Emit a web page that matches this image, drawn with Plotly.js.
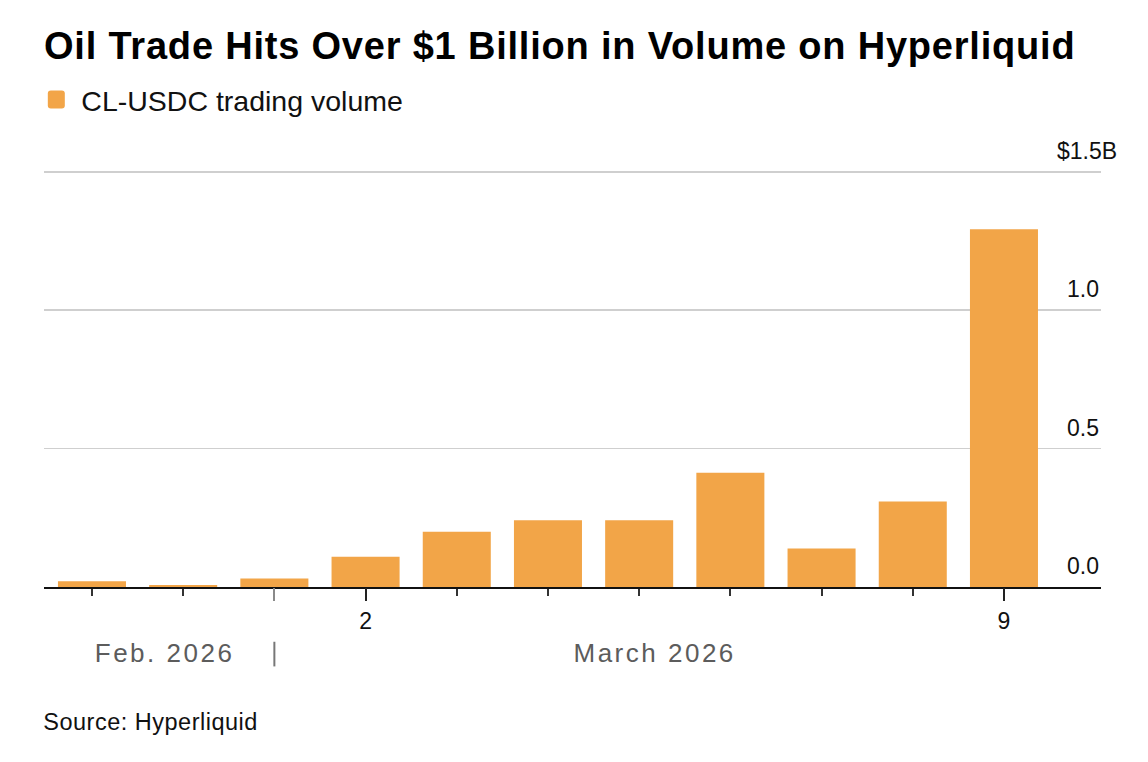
<!DOCTYPE html>
<html>
<head>
<meta charset="utf-8">
<script src="https://cdn.plot.ly/plotly-3.0.1.min.js"></script>
<style>
  html, body { margin: 0; padding: 0; background: #ffffff; }
  #chart { width: 1148px; height: 762px; }
  g.annotation[data-index="0"] text, g.annotation[data-index="1"] text { letter-spacing: 2.5px; }
  g.annotation[data-index="6"] text { letter-spacing: 0.5px; }
  .gtitle { letter-spacing: 0.8px; }
  .legend .legendpoints path { d: path("M-5.5,-9H5.5A3,3 0 0 1 8.5,-6V6A3,3 0 0 1 5.5,9H-5.5A3,3 0 0 1 -8.5,6V-6A3,3 0 0 1 -5.5,-9Z"); }
</style>
</head>
<body>
<div id="chart"></div>
<script>
// ---- data ----
const dates = ['Feb 27', 'Feb 28', 'Mar 1', 'Mar 2', 'Mar 3', 'Mar 4', 'Mar 5', 'Mar 6', 'Mar 7', 'Mar 8', 'Mar 9'];
const volumeB = [0.021, 0.007, 0.031, 0.109, 0.200, 0.241, 0.241, 0.413, 0.139, 0.309, 1.292];
const seriesName = 'CL-USDC trading volume';
const labeledDays = ['Mar 2', 'Mar 9'];
const labeledDayText = ['2', '9'];
const monthStart = 'Mar 1';
const monthLabels = ['Feb. 2026', 'March 2026'];
const monthLabelPos = [0.8, 6.17];
const yTickVals = [0, 0.5, 1.0, 1.5];
const yTickText = ['0.0', '0.5', '1.0', '$1.5B'];

// ---- chart ----
const FONT = 'Liberation Sans, Arial, Helvetica, sans-serif';
const BAR = '#f2a548';
const xRange = [-0.526, 11.064];
const yRange = [0, 1.51];
const idx = d => dates.indexOf(d);

const traces = [
  {
    type: 'bar',
    x: dates,
    y: volumeB,
    name: seriesName,
    marker: { color: BAR, line: { width: 0 } },
    hoverinfo: 'x+y',
    showlegend: true
  },
  { type: 'scatter', mode: 'markers', x: [], y: [], xaxis: 'x2', showlegend: false, hoverinfo: 'skip' },
  { type: 'scatter', mode: 'markers', x: [], y: [], xaxis: 'x3', showlegend: false, hoverinfo: 'skip' }
];

const annotations = [];
monthLabels.forEach((t, i) => {
  annotations.push({
    text: t, xref: 'x', yref: 'paper', x: monthLabelPos[i], y: -0.159,
    xanchor: 'center', yanchor: 'middle', showarrow: false,
    font: { family: FONT, size: 26, color: '#5c5c5c' }
  });
});
yTickVals.forEach((v, i) => {
  annotations.push({
    text: yTickText[i], xref: 'paper', yref: 'y', x: 1, y: v,
    xanchor: 'right', yanchor: 'bottom', yshift: 6,
    xshift: yTickText[i].indexOf('B') >= 0 ? 18 : 0,
    showarrow: false,
    font: { family: FONT, size: 23, color: '#111111' }
  });
});
annotations.push({
  text: 'Source: Hyperliquid', xref: 'paper', yref: 'paper', x: 0, y: -0.324,
  xanchor: 'left', yanchor: 'middle', xshift: 2, showarrow: false,
  font: { family: FONT, size: 23.5, color: '#111111' }
});

const layout = {
  width: 1148, height: 762,
  paper_bgcolor: '#ffffff', plot_bgcolor: '#ffffff',
  margin: { l: 44, r: 47, t: 169.2, b: 174.5, pad: 0 },
  font: { family: FONT, color: '#111111' },
  title: {
    text: '<b>Oil Trade Hits Over $1 Billion in Volume on Hyperliquid</b>',
    xref: 'paper', x: 0, xanchor: 'left',
    yref: 'container', y: 1 - 46 / 762, yanchor: 'middle',
    font: { family: FONT, size: 38, color: '#000000' }
  },
  showlegend: true,
  legend: {
    orientation: 'h', xref: 'paper', x: -0.012, xanchor: 'left',
    yref: 'container', y: 1 - 100 / 762, yanchor: 'middle',
    itemwidth: 40,
    font: { family: FONT, size: 28.5, color: '#111111' },
    bgcolor: 'rgba(0,0,0,0)'
  },
  bargap: 0.254,
  xaxis: {
    type: 'category', categoryorder: 'array', categoryarray: dates,
    range: xRange, fixedrange: true,
    showgrid: false, zeroline: false,
    showline: true, linecolor: '#111111', linewidth: 2,
    ticks: 'outside', ticklen: 7, tickwidth: 2, tickcolor: '#333333',
    tickvals: dates, ticktext: dates.map(() => ''),
    showticklabels: false
  },
  xaxis2: {
    overlaying: 'x', anchor: 'y', type: 'linear', range: xRange, fixedrange: true,
    showgrid: false, zeroline: false, showline: false,
    ticks: 'outside', ticklen: 13, tickwidth: 2, tickcolor: '#222222',
    tickmode: 'array', tickvals: labeledDays.map(idx), ticktext: labeledDayText,
    tickfont: { family: FONT, size: 23, color: '#111111' },
    ticklabelstandoff: 0
  },
  xaxis3: {
    overlaying: 'x', anchor: 'y', type: 'linear', range: xRange, fixedrange: true,
    showgrid: false, zeroline: false, showline: false,
    ticks: 'outside', ticklen: 13, tickwidth: 2, tickcolor: '#8a8a8a',
    tickmode: 'array', tickvals: [idx(monthStart)], ticktext: [''], showticklabels: false
  },
  yaxis: {
    range: yRange, fixedrange: true,
    tickmode: 'array', tickvals: yTickVals, showticklabels: false,
    showgrid: true, gridcolor: '#cfcfcf', gridwidth: 1.5,
    zeroline: false, showline: false, ticks: ''
  },
  shapes: [{
    type: 'line', xref: 'x', yref: 'paper',
    x0: idx(monthStart), x1: idx(monthStart), y0: -0.131, y1: -0.19,
    line: { color: '#777777', width: 2 }
  }],
  annotations: annotations
};

Plotly.newPlot('chart', traces, layout, { displayModeBar: false, staticPlot: true });
</script>
</body>
</html>
